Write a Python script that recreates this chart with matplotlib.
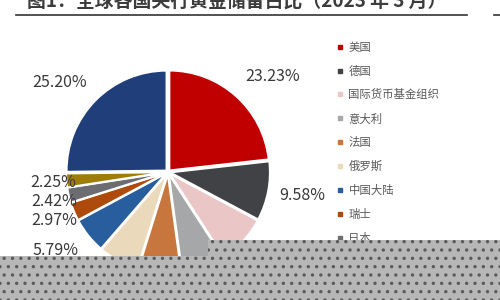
import matplotlib
matplotlib.use('Agg')
import matplotlib.pyplot as plt
from matplotlib.lines import Line2D
from matplotlib.patches import Polygon
import numpy as np

plt.rcParams['font.family'] = ['Noto Sans CJK SC', 'DejaVu Sans']
plt.rcParams['hatch.linewidth'] = 1.2

# data (share of global central bank gold reserves, 2023-03)
names = ['美国', '德国', '国际货币基金组织', '意大利', '法国', '俄罗斯',
         '中国大陆', '瑞士', '日本', '印度', '其他']
shares = [23.23, 9.58, 8.03, 7.00, 6.96, 6.57, 5.79, 2.97, 2.42, 2.25, 25.20]
colors = ['#C00000', '#414246', '#EAC6C7', '#A6A7A9', '#C7773D', '#EAD9BB',
          '#285E9E', '#AE4A0C', '#6B6D72', '#9E7D08', '#203F7A']

# label placement: radial distance and angle shift (deg) from wedge middle
label_dist = [1.42, 1.36, 1.35, 1.35, 1.35, 1.35, 1.37, 1.24, 1.18, 1.15, 1.41]
label_shift = [-5.8, 1.0, 0, 0, 0, 0, -3.7, 0, 1.5, 0.7, 5.0]

fig = plt.figure(figsize=(5, 3), dpi=100)
fig.patch.set_facecolor('white')

ax = fig.add_axes([58 / 500, 18 / 300, 220 / 500, 220 / 300])
wedges, _ = ax.pie(shares, colors=colors, startangle=90, counterclock=False,
                   radius=1.0, explode=[0.02] * len(shares),
                   wedgeprops=dict(edgecolor='white', linewidth=1.5))
ax.set_xlim(-1.1, 1.1)
ax.set_ylim(-1.1, 1.1)
ax.set_aspect('auto')
ax.axis('off')

for w, v, d, s in zip(wedges, shares, label_dist, label_shift):
    ang = np.deg2rad((w.theta1 + w.theta2) / 2 + s)
    ax.text(d * np.cos(ang), d * np.sin(ang), '%.2f%%' % v,
            ha='center', va='center', fontsize=11.5, color='#3a3a3a',
            clip_on=False)

handles = [Line2D([], [], marker='s', linestyle='none', markersize=3.2,
                  markerfacecolor=c, markeredgecolor=c) for c in colors]
fig.legend(handles, names, loc='upper left', bbox_to_anchor=(337 / 500, 1 - 42 / 300),
           frameon=False, fontsize=8.2, labelcolor='#595959',
           handlelength=0.6, handletextpad=0.4, labelspacing=1.12,
           borderpad=0, borderaxespad=0)

# title (cut off at the top edge) and underline
fig.text(27 / 500, 1 - 2 / 300, '图1：全球各国央行黄金储备占比（2023 年 3 月）',
         ha='left', va='center', fontsize=13.6, fontweight='bold', color='#3c3c3c')
fig.add_artist(Line2D([16 / 500, 467 / 500], [1 - 15 / 300, 1 - 15 / 300],
                      color='#333333', linewidth=1.2))
fig.add_artist(Line2D([494 / 500, 500 / 500], [1 - 15 / 300, 1 - 15 / 300],
                      color='#333333', linewidth=1.2))

# gray dotted overlay at the bottom of the picture
pts = np.array([[0, 300], [500, 300], [500, 240], [208, 240], [208, 256], [0, 256]], float)
pts[:, 0] /= 500
pts[:, 1] = 1 - pts[:, 1] / 300
fig.add_artist(Polygon(pts, closed=True, transform=fig.transFigure,
                       facecolor='#b7b7b7', edgecolor='#5a5a5a', hatch='..',
                       linewidth=0, zorder=10))

fig.savefig('out.png', dpi=100)
